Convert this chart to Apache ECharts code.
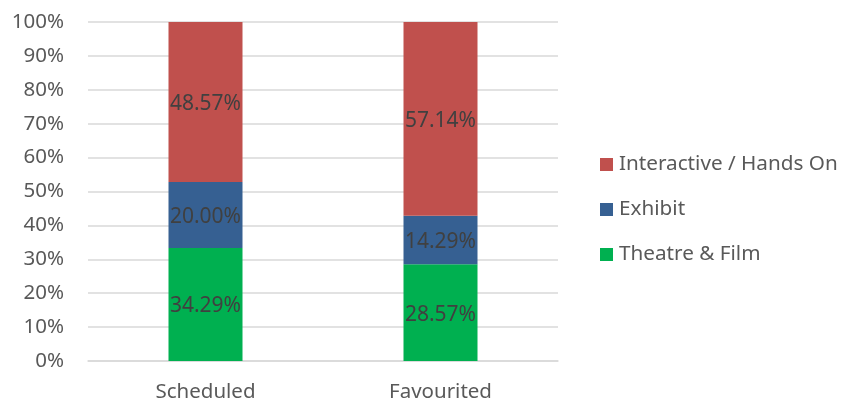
<!DOCTYPE html>
<html>
<head>
<meta charset="utf-8">
<script src="https://cdn.jsdelivr.net/npm/echarts@6/dist/echarts.min.js"></script>
<style>
  html, body { margin: 0; padding: 0; background: #fff; }
  #chart { width: 842px; height: 403px; }
</style>
</head>
<body>
<div id="chart"></div>
<script>
// Categories and raw shares per activity type (percent of each group)
const categories = ['Scheduled', 'Favourited'];
const theatreFilm = [34.29, 28.57];
const exhibit = [20.00, 14.29];
const interactive = [48.57, 57.14];
const yTicks = [0, 10, 20, 30, 40, 50, 60, 70, 80, 90, 100];

const raw = [theatreFilm, exhibit, interactive];
// Column totals, used to scale each stack to 100%
const totals = categories.map((_, i) => raw.reduce((s, arr) => s + arr[i], 0));
const toShare = arr => arr.map((v, i) => v / totals[i] * 100);

const FONT = '"Noto Sans", sans-serif';

function makeSeries(name, values, color) {
  return {
    name: name,
    type: 'bar',
    stack: 'total',
    barWidth: 74,
    data: toShare(values).map((v, i) => ({ value: v, rawValue: values[i] })),
    itemStyle: { color: color },
    label: {
      show: true,
      position: 'inside',
      offset: [0, 2],
      color: '#404040',
      fontFamily: FONT,
      fontSize: 21,
      formatter: p => p.data.rawValue.toFixed(2) + '%'
    },
    emphasis: { disabled: true }
  };
}

const chart = echarts.init(document.getElementById('chart'), null, { renderer: 'canvas' });
chart.setOption({
  animation: false,
  backgroundColor: '#ffffff',
  grid: { left: 88, right: 284, top: 22, bottom: 41, containLabel: false },
  legend: {
    orient: 'vertical',
    left: 595,
    top: 149,
    itemWidth: 13,
    itemHeight: 13,
    itemGap: 24,
    icon: 'rect',
    data: ['Interactive / Hands On', 'Exhibit', 'Theatre & Film'],
    textStyle: { color: '#595959', fontFamily: FONT, fontSize: 20.7, padding: [0, 0, 0, 1] }
  },
  xAxis: {
    type: 'category',
    data: categories,
    axisLine: { show: true, lineStyle: { color: '#d9d9d9', width: 1.5 } },
    axisTick: { show: false },
    axisLabel: { color: '#595959', fontFamily: FONT, fontSize: 20.5, margin: 21 }
  },
  yAxis: {
    type: 'value',
    min: yTicks[0],
    max: yTicks[yTicks.length - 1],
    interval: 10,
    axisLine: { show: false },
    axisTick: { show: false },
    splitLine: { lineStyle: { color: '#d9d9d9', width: 1.5 } },
    axisLabel: { color: '#595959', fontFamily: FONT, fontSize: 20.5, margin: 24, formatter: v => v + '%' }
  },
  series: [
    makeSeries('Theatre & Film', theatreFilm, '#00b050'),
    makeSeries('Exhibit', exhibit, '#366092'),
    makeSeries('Interactive / Hands On', interactive, '#c0504d')
  ]
});
</script>
</body>
</html>
